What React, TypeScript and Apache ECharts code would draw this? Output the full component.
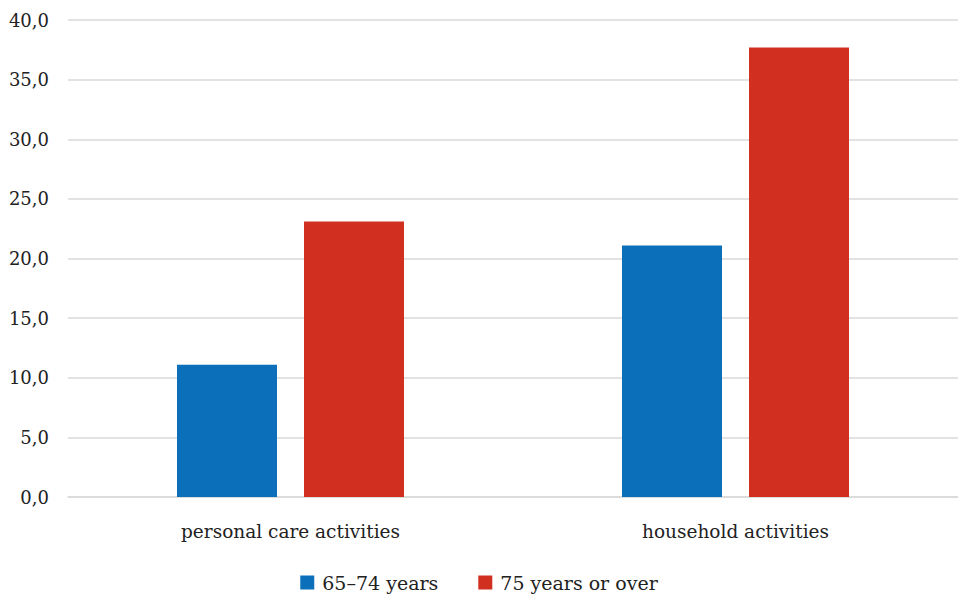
import React, { useEffect, useRef } from "react";
import * as echarts from "echarts";

const categories = ["personal care activities", "household activities"];
const seriesNames = ["65–74 years", "75 years or over"];
const values6574 = [11.1, 21.1];
const values75plus = [23.1, 37.7];
const colors = ["#0b70b9", "#d12f20"];

export default function App() {
  const ref = useRef<HTMLDivElement>(null);
  useEffect(() => {
    if (!ref.current) return;
    const chart = echarts.init(ref.current, null, { renderer: "svg" });
    const font = "DejaVu Serif";
    chart.setOption({
      animation: false,
      textStyle: { fontFamily: font },
      grid: { left: 68, right: 0, top: 20, bottom: 99, containLabel: false },
      legend: {
        data: seriesNames,
        bottom: 4,
        padding: 0,
        left: "center",
        itemWidth: 14,
        itemHeight: 14,
        itemGap: 40,
        icon: "rect",
        textStyle: { fontFamily: font, fontSize: 19, color: "#222", padding: [0, 0, 0, 3] },
      },
      xAxis: {
        type: "category",
        data: categories,
        axisLine: { lineStyle: { color: "#d9d9d9", width: 1.5 } },
        axisTick: { show: false },
        axisLabel: { fontFamily: font, fontSize: 18.5, color: "#222", margin: 25 },
      },
      yAxis: {
        type: "value",
        min: 0,
        max: 40,
        interval: 5,
        axisLine: { show: false },
        axisTick: { show: false },
        splitLine: { lineStyle: { color: "#d9d9d9", width: 1.5 } },
        axisLabel: {
          fontFamily: font,
          fontSize: 18,
          color: "#222",
          margin: 19,
          formatter: (v: number) => v.toFixed(1).replace(".", ","),
        },
      },
      series: [
        {
          name: seriesNames[0],
          type: "bar",
          data: values6574,
          barWidth: 100,
          barGap: "27%",
          itemStyle: { color: colors[0] },
        },
        {
          name: seriesNames[1],
          type: "bar",
          data: values75plus,
          barWidth: 100,
          itemStyle: { color: colors[1] },
        },
      ],
    });
    return () => chart.dispose();
  }, []);
  return (
    <div
      ref={ref}
      style={{ position: "fixed", left: 0, top: 0, width: 958, height: 596, background: "#fff" }}
    />
  );
}
